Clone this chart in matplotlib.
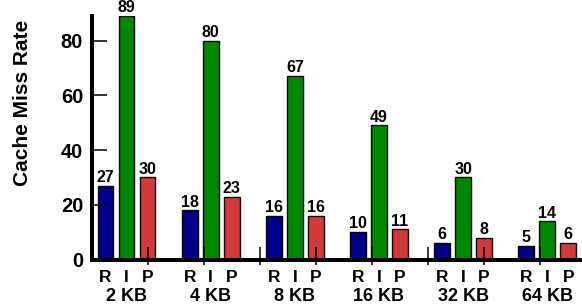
# -*- coding: utf-8 -*-
"""Cache miss rate per cache size, grouped bars (R / I / P)."""
import matplotlib

matplotlib.use("Agg")
import matplotlib.pyplot as plt
import matplotlib.transforms as mtransforms

plt.rcParams["font.family"] = ["Liberation Sans", "DejaVu Sans"]

CACHE_SIZES = ["2 KB", "4 KB", "8 KB", "16 KB", "32 KB", "64 KB"]
BAR_NAMES = ["R", "I", "P"]
R_VALUES = [27, 18, 16, 10, 6, 5]
I_VALUES = [89, 80, 67, 49, 30, 14]
P_VALUES = [30, 23, 16, 11, 8, 6]
Y_TICKS = [0, 20, 40, 60, 80]

COLORS = ["#000088", "#008800", "#d23a3a"]
GROUP_STEP = 4
BAR_WIDTH = 0.75


def main() -> None:
    fig = plt.figure(figsize=(5.82, 3.07), dpi=100)
    ax = fig.add_axes([91.5 / 582, 47.5 / 307, 1 - 91.5 / 582, 243.5 / 307])
    ax.set_axisbelow(False)  # ticks are drawn over the bars

    series = [R_VALUES, I_VALUES, P_VALUES]
    for k, (vals, color) in enumerate(zip(series, COLORS)):
        xs = [g * GROUP_STEP + k for g in range(len(CACHE_SIZES))]
        ax.bar(xs, vals, width=BAR_WIDTH, color=color, edgecolor="black",
               linewidth=1.0, zorder=2)
        for x, v in zip(xs, vals):
            ax.annotate(str(v), (x, v), xytext=(0, 0.5), textcoords="offset points",
                        ha="center", va="bottom", fontsize=11.5, fontweight="bold")

    # labels under the axis
    trans = mtransforms.blended_transform_factory(ax.transData, ax.transAxes)
    for g, size in enumerate(CACHE_SIZES):
        for k, name in enumerate(BAR_NAMES):
            ax.text(g * GROUP_STEP + k, -0.072, name, transform=trans,
                    ha="center", va="center", fontsize=12.5, fontweight="bold")
        ax.text(g * GROUP_STEP + 1, -0.152, size, transform=trans,
                ha="center", va="center", fontsize=13, fontweight="bold")

    ax.set_xlim(-2 / 3, 22.65)
    ax.set_ylim(0, 89)

    # odd leftover x ticks every 2/3 of a group
    tick_step = GROUP_STEP * 2 / 3
    xt = [-2 / 3 + tick_step * i for i in range(1, 9)]
    ax.set_xticks(xt)
    ax.set_xticks(xt, minor=True)
    ax.xaxis.remove_overlapping_locs = False
    ax.tick_params(axis="x", which="major", direction="in", length=9.5,
                   width=1.1, labelbottom=False)
    ax.tick_params(axis="x", which="minor", direction="out", length=3.5,
                   width=1.1, labelbottom=False)

    ax.set_yticks(Y_TICKS)
    ax.tick_params(axis="y", direction="in", length=11, width=1.1, pad=6,
                   labelsize=14.5)
    for lbl in ax.get_yticklabels():
        lbl.set_fontweight("bold")

    for side in ("top", "right"):
        ax.spines[side].set_visible(False)
    for side in ("left", "bottom"):
        ax.spines[side].set_linewidth(2.9)
        ax.spines[side].set_zorder(3)

    fig.text(23 / 582, 1 - 102.5 / 307, "Cache Miss Rate", rotation=90,
             ha="center", va="center", fontsize=15, fontweight="bold")

    fig.savefig("out.png", dpi=100)


if __name__ == "__main__":
    main()
